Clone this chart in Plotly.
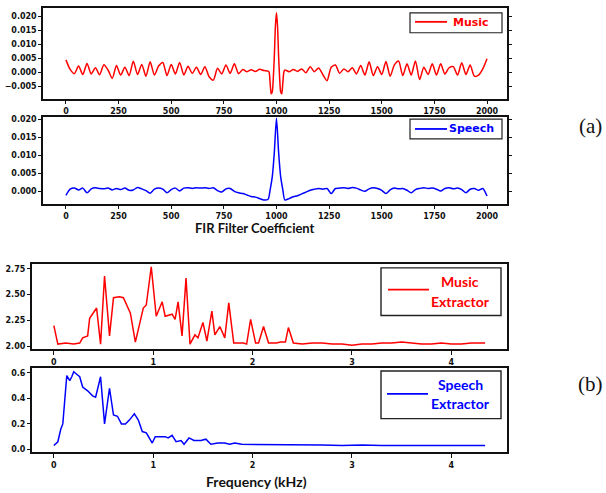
import plotly.graph_objects as go

# ---------------- data ----------------
fir_ticks = [0, 250, 500, 750, 1000, 1250, 1500, 1750, 2000]

music_fir_x = [0, 20, 40, 60, 80, 100, 120, 140, 160, 180, 200, 220, 240, 260, 280, 300, 320, 340, 360, 380,
               400, 420, 440, 460, 480, 500, 520, 540, 560, 580, 600, 620, 640, 660, 680, 700, 720, 740, 760, 780,
               800, 820, 840, 860, 880, 900, 920, 940, 960,
               965, 970, 975, 980, 985, 990, 995, 1000, 1005, 1010, 1015, 1020, 1025, 1030, 1035,
               1040, 1060, 1080, 1100, 1120, 1140, 1160, 1180, 1200, 1220, 1240, 1260, 1280, 1300, 1320, 1340,
               1360, 1380, 1400, 1420, 1440, 1460, 1480, 1500, 1520, 1540, 1560, 1580, 1600, 1620, 1640, 1660,
               1680, 1700, 1720, 1740, 1760, 1780, 1800, 1820, 1840, 1860, 1880, 1900, 1920, 1940, 1960, 1980, 2000]
music_fir = [0.0044, 0.0010, -0.0005, 0.0022, -0.0008, 0.0031, -0.0006, 0.0016, -0.0009, 0.0027,
             0.0008, -0.0022, 0.0024, -0.0010, 0.0018, -0.0012, 0.0039, -0.0008, 0.0028, -0.0014,
             0.0037, -0.0010, 0.0022, 0.0035, -0.0012, 0.0028, -0.0006, 0.0035, -0.0010, 0.0021,
             -0.0004, 0.0018, -0.0008, 0.0020, -0.0016, -0.0028, 0.0014, -0.0006, 0.0026, -0.0004,
             0.0030, -0.0005, 0.0010, 0.0002, 0.0009, 0.0003, 0.0011, 0.0006, 0.0004,
             0.0000, -0.0040, -0.0077, -0.0070, -0.0020, 0.0060, 0.0165, 0.0212, 0.0165, 0.0060,
             -0.0020, -0.0070, -0.0077, -0.0040, 0.0000,
             0.0008, 0.0002, 0.0010, 0.0003, 0.0012, -0.0002, 0.0020, 0.0002, 0.0015, -0.0008,
             -0.0030, 0.0018, 0.0026, -0.0004, 0.0012, 0.0002, 0.0016, -0.0006, 0.0024, -0.0010,
             0.0037, -0.0012, 0.0020, -0.0008, 0.0038, -0.0014, 0.0026, 0.0040, -0.0012, 0.0030,
             -0.0010, 0.0040, -0.0026, 0.0018, -0.0008, 0.0030, -0.0010, 0.0030, -0.0006, 0.0016,
             0.0020, -0.0010, 0.0034, -0.0008, 0.0026, -0.0014, -0.0010, 0.0012, 0.0048]

speech_fir_x = [0, 20, 40, 60, 80, 100, 120, 140, 160, 180, 200, 220, 240, 260, 280, 300, 320, 340, 360, 380,
                400, 420, 440, 460, 480, 500, 520, 540, 560, 580, 600, 620, 640, 660, 680, 700, 720, 740, 760, 780,
                800, 820, 840, 860, 880, 900, 920, 940, 960, 970, 980, 990, 1000, 1010, 1020, 1030, 1040,
                1060, 1080, 1100, 1120, 1140, 1160, 1180, 1200, 1220, 1240, 1260, 1280, 1300, 1320, 1340,
                1360, 1380, 1400, 1420, 1440, 1460, 1480, 1500, 1520, 1540, 1560, 1580, 1600, 1620, 1640, 1660,
                1680, 1700, 1720, 1740, 1760, 1780, 1800, 1820, 1840, 1860, 1880, 1900, 1920, 1940, 1960, 1980, 2000]
speech_fir = [-0.0011, 0.0006, 0.0009, 0.0004, 0.0009, -0.0004, 0.0007, 0.0010, 0.0008, 0.0007,
              0.0009, 0.0004, 0.0008, 0.0005, 0.0009, 0.0003, 0.0004, 0.0011, 0.0007, 0.0002,
              -0.0005, 0.0006, 0.0009, 0.0006, -0.0004, 0.0005, 0.0009, 0.0001, 0.0009, 0.0010,
              0.0008, 0.0010, 0.0009, 0.0010, 0.0008, 0.0010, 0.0002, -0.0002, 0.0007, 0.0008,
              0.0000, -0.0004, -0.0006, -0.0010, -0.0014, -0.0016, -0.0020, -0.0024, -0.0022,
              0.0005, 0.0040, 0.0110, 0.0203, 0.0110, 0.0040, 0.0005, -0.0024,
              -0.0020, -0.0015, -0.0012, -0.0007, -0.0002, 0.0003, 0.0006, 0.0008, 0.0006, 0.0008,
              -0.0006, 0.0008, 0.0009, 0.0010, 0.0008, 0.0011, 0.0009, 0.0004, 0.0000, 0.0007,
              0.0010, 0.0008, 0.0003, -0.0006, 0.0004, 0.0009, 0.0007, 0.0008, 0.0003, -0.0004,
              0.0005, 0.0008, 0.0010, 0.0008, 0.0009, 0.0006, 0.0001, 0.0008, 0.0010, 0.0007,
              0.0009, 0.0005, -0.0004, 0.0006, 0.0008, 0.0003, 0.0008, -0.0013]

freq_ticks = [0, 1, 2, 3, 4]

music_ext_f = [0.00, 0.04, 0.12, 0.20, 0.26, 0.29, 0.34, 0.36, 0.43, 0.47, 0.51, 0.56, 0.60, 0.66, 0.70,
               0.77, 0.82, 0.87, 0.90, 0.93, 0.98, 1.03, 1.09, 1.12, 1.19, 1.22, 1.25, 1.29, 1.33, 1.37,
               1.42, 1.45, 1.50, 1.54, 1.59, 1.62, 1.67, 1.72, 1.76, 1.81, 1.91, 1.94, 1.98, 2.03, 2.06,
               2.11, 2.16, 2.24, 2.28, 2.33, 2.36, 2.41, 2.50, 2.60, 2.70, 2.80, 2.90, 3.00, 3.10, 3.20,
               3.30, 3.40, 3.50, 3.60, 3.70, 3.80, 3.90, 4.00, 4.10, 4.20, 4.34]
music_ext = [2.20, 2.02, 2.03, 2.02, 2.03, 2.08, 2.10, 2.27, 2.37, 2.02, 2.68, 2.10, 2.47, 2.48, 2.47,
             2.32, 2.04, 2.26, 2.37, 2.40, 2.77, 2.29, 2.43, 2.29, 2.31, 2.26, 2.43, 2.10, 2.66, 2.02,
             2.11, 2.08, 2.23, 2.05, 2.34, 2.11, 2.19, 2.08, 2.42, 2.03, 2.03, 2.02, 2.26, 2.03, 2.03,
             2.19, 2.03, 2.03, 2.04, 2.04, 2.18, 2.03, 2.02, 2.03, 2.03, 2.02, 2.02, 2.01, 2.02, 2.02,
             2.03, 2.03, 2.04, 2.03, 2.02, 2.02, 2.03, 2.02, 2.02, 2.03, 2.03]

speech_ext_f = [0.00, 0.04, 0.07, 0.09, 0.13, 0.16, 0.18, 0.20, 0.23, 0.26, 0.29, 0.34, 0.39, 0.42, 0.47,
                0.51, 0.56, 0.60, 0.64, 0.68, 0.72, 0.76, 0.81, 0.85, 0.89, 0.93, 0.96, 0.99, 1.02, 1.07,
                1.12, 1.15, 1.19, 1.23, 1.28, 1.31, 1.36, 1.41, 1.48, 1.53, 1.58, 1.65, 1.72, 1.77, 1.82,
                1.89, 2.04, 2.14, 2.30, 2.50, 2.70, 2.90, 3.10, 3.30, 3.50, 3.70, 3.90, 4.10, 4.34]
speech_ext = [0.03, 0.06, 0.16, 0.20, 0.58, 0.54, 0.57, 0.61, 0.59, 0.57, 0.49, 0.46, 0.42, 0.41, 0.57,
              0.20, 0.48, 0.27, 0.26, 0.20, 0.20, 0.23, 0.28, 0.23, 0.14, 0.13, 0.09, 0.05, 0.10, 0.10,
              0.10, 0.09, 0.11, 0.06, 0.07, 0.04, 0.09, 0.07, 0.07, 0.08, 0.04, 0.05, 0.05, 0.04, 0.05,
              0.04, 0.04, 0.04, 0.035, 0.04, 0.035, 0.03, 0.035, 0.03, 0.03, 0.035, 0.03, 0.03, 0.03]

music_fir_yticks = [-0.005, 0.0, 0.005, 0.010, 0.015, 0.020]
speech_fir_yticks = [0.0, 0.005, 0.010, 0.015, 0.020]
music_ext_yticks = [2.00, 2.25, 2.50, 2.75]
speech_ext_yticks = [0.0, 0.2, 0.4, 0.6]

RED = "#ff0000"
BLUE = "#0000ff"

# ---------------- layout helpers ----------------
W, H = 606, 493


def px(x):
    return x / W


def py(y):
    return 1 - y / H


tickfont = dict(family="DejaVu Sans", size=8, color="#111111", weight="bold")


def axis(**kw):
    base = dict(showgrid=False, zeroline=False, showline=True, linecolor="#111111",
                linewidth=1.5, mirror=True, ticks="outside", ticklen=3, tickwidth=1,
                tickcolor="#111111", tickfont=tickfont, fixedrange=True)
    base.update(kw)
    return base


fig = go.Figure()
fig.add_trace(go.Scatter(x=music_fir_x, y=music_fir, mode="lines", name="Music",
                         line=dict(color=RED, width=1.5, shape="spline", smoothing=0.7),
                         xaxis="x", yaxis="y", showlegend=False))
fig.add_trace(go.Scatter(x=speech_fir_x, y=speech_fir, mode="lines", name="Speech",
                         line=dict(color=BLUE, width=1.5, shape="spline", smoothing=0.7),
                         xaxis="x2", yaxis="y2", showlegend=False))
fig.add_trace(go.Scatter(x=music_ext_f, y=music_ext, mode="lines", name="Music Extractor",
                         line=dict(color=RED, width=1.5),
                         xaxis="x3", yaxis="y3", showlegend=False))
fig.add_trace(go.Scatter(x=speech_ext_f, y=speech_ext, mode="lines", name="Speech Extractor",
                         line=dict(color=BLUE, width=1.5),
                         xaxis="x4", yaxis="y4", showlegend=False))

fig.update_layout(
    width=W, height=H, margin=dict(l=0, r=0, t=0, b=0),
    paper_bgcolor="white", plot_bgcolor="white",
    xaxis=axis(domain=[px(43), px(507)], range=[-109, 2095], tickvals=fir_ticks, anchor="y"),
    yaxis=axis(domain=[py(98), py(6)], range=[-0.0096, 0.0229], tickvals=music_fir_yticks,
               tickformat=".3f", anchor="x", mirror="ticks"),
    xaxis2=axis(domain=[px(43), px(507)], range=[-109, 2095], tickvals=fir_ticks, anchor="y2"),
    yaxis2=axis(domain=[py(204), py(116)], range=[-0.0036, 0.0206], tickvals=speech_fir_yticks,
                tickformat=".3f", anchor="x2", mirror="ticks"),
    xaxis3=axis(domain=[px(32), px(507)], range=[-0.22, 4.56], tickvals=freq_ticks, anchor="y3",
                linewidth=2.2, ticklen=4),
    yaxis3=axis(domain=[py(350), py(264)], range=[1.971, 2.798], tickvals=music_ext_yticks,
                tickformat=".2f", anchor="x3", linewidth=2.2),
    xaxis4=axis(domain=[px(32), px(507)], range=[-0.22, 4.56], tickvals=freq_ticks, anchor="y4",
                linewidth=2.2, ticklen=4),
    yaxis4=axis(domain=[py(454), py(369)], range=[-0.023, 0.639], tickvals=speech_ext_yticks,
                tickformat=".1f", anchor="x4", linewidth=2.2),
)

shapes = []
annotations = []


def legend_box(x0, y0, x1, y1, lx0, lx1, ly, color, lw=1.2):
    shapes.append(dict(type="rect", xref="paper", yref="paper", x0=px(x0), x1=px(x1),
                       y0=py(y1), y1=py(y0), line=dict(color="#222222", width=lw),
                       fillcolor="white"))
    shapes.append(dict(type="line", xref="paper", yref="paper", x0=px(lx0), x1=px(lx1),
                       y0=py(ly), y1=py(ly), line=dict(color=color, width=1.8)))


legend_box(410, 11, 502, 31, 415, 447, 20, RED)
legend_box(410, 118, 502, 138, 415, 447, 128, BLUE)
legend_box(381, 268, 501, 316, 388, 429, 290, RED, lw=1.4)
legend_box(381, 372, 501, 420, 387, 428, 395, BLUE, lw=1.4)


def text(x, y, s, size, color, family, weight="bold", xanchor="center"):
    annotations.append(dict(x=px(x), y=py(y), xref="paper", yref="paper", text=s,
                            showarrow=False, xanchor=xanchor, yanchor="middle",
                            font=dict(family=family, size=size, color=color, weight=weight)))


text(471, 21, "Music", 11, RED, "DejaVu Sans")
text(471, 128, "Speech", 11, BLUE, "DejaVu Sans")
text(460, 282, "Music", 14, RED, "Lato")
text(460, 302, "Extractor", 14, RED, "Lato")
text(460, 386, "Speech", 14, BLUE, "Lato")
text(460, 405, "Extractor", 14, BLUE, "Lato")
text(255, 228, "FIR Filter Coefficient", 13, "#111111", "Lato")
text(256, 483, "Frequency (kHz)", 14, "#111111", "Lato")
text(590, 125, "(a)", 21, "#111111", "Liberation Serif", weight="normal")
text(590, 385, "(b)", 21, "#111111", "Liberation Serif", weight="normal")

fig.update_layout(shapes=shapes, annotations=annotations)

fig.write_html("out.html", config={"displayModeBar": False},
               post_script="document.body.style.margin='0';document.body.style.overflow='hidden';")
